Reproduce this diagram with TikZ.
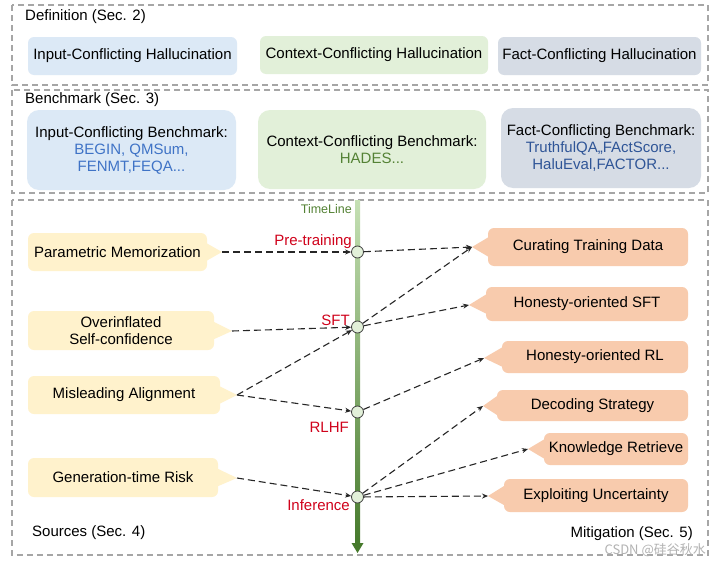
\documentclass[tikz,border=0pt]{standalone}
\usepackage{fontspec}
\setmainfont{Liberation Sans}
\newfontfamily\cjkfont{Noto Sans CJK SC}
\usetikzlibrary{arrows.meta}
\definecolor{bluebg}{HTML}{DCE9F6}
\definecolor{greenbg}{HTML}{E2F0D9}
\definecolor{graybg}{HTML}{D6DCE5}
\definecolor{srcbg}{HTML}{FFF2CC}
\definecolor{mitbg}{HTML}{F8CBAD}
\definecolor{bluetxt}{HTML}{3F73C6}
\definecolor{darkbluetxt}{HTML}{2F5597}
\definecolor{greentxt}{HTML}{548235}
\definecolor{redtxt}{HTML}{D0021B}
\definecolor{framegray}{HTML}{A6A6A6}
\definecolor{tltop}{HTML}{C5E0B4}
\definecolor{tlmid}{HTML}{7DB356}
\definecolor{tlbot}{HTML}{467A2C}
\definecolor{circfill}{HTML}{E2F0D9}
\begin{document}
\begin{tikzpicture}[x=1pt,y=-1pt,
  font=\fontsize{15}{17}\selectfont,
  frame/.style={draw=framegray, line width=1.2pt, dash pattern=on 6pt off 4pt},
  box/.style={rounded corners=6pt, inner sep=0pt, align=center},
  bbox/.style={rounded corners=12pt, inner sep=0pt, align=center},
  srcbox/.style={box, fill=srcbg},
  mitbox/.style={box, fill=mitbg},
  circ/.style={circle, minimum size=12pt, inner sep=0pt, fill=circfill, draw=black!75, line width=0.8pt},
  redlab/.style={text=redtxt, inner sep=0pt},
  seclab/.style={inner sep=0pt},
  dasharrow/.style={draw=black!85, line width=1.1pt, dash pattern=on 7pt off 4pt, -{Stealth[length=6pt,width=5pt]}}
]
\useasboundingbox (0,0) rectangle (720,562);
\fill[white] (0,0) rectangle (720,562);

% frames
\draw[frame] (12,5) rectangle (708,85);
\draw[frame] (12,90) rectangle (708,193);
\draw[frame] (12,200) rectangle (708,555);

\node[seclab, anchor=west] (defl) at (25,17) {Definition (Sec. 2)};
\node[seclab, anchor=west] (benl) at (25,100) {Benchmark (Sec. 3)};
\node[seclab, anchor=west] (srcl) at (32,533) {Sources (Sec. 4)};
\node[seclab, anchor=east] (mitl) at (693,534) {Mitigation (Sec. 5)};

% definition boxes
\node[box, fill=bluebg, minimum width=209pt, minimum height=38pt] (d1) at (132.5,56) {Input-Conflicting Hallucination};
\node[box, fill=greenbg, minimum width=228pt, minimum height=38pt] (d2) at (374,55) {Context-Conflicting Hallucination};
\node[box, fill=graybg, minimum width=203pt, minimum height=38pt] (d3) at (599.5,56) {Fact-Conflicting Hallucination};

% benchmark boxes
\node[bbox, fill=bluebg, minimum width=209pt, minimum height=80pt] (b1) at (131.5,150)
  {Input-Conflicting Benchmark:\\\textcolor{bluetxt}{BEGIN, QMSum,}\\\textcolor{bluetxt}{FENMT,FEQA...}};
\node[bbox, fill=greenbg, minimum width=228pt, minimum height=79pt] (b2) at (372,149.5)
  {Context-Conflicting Benchmark:\\\textcolor{greentxt}{HADES...}};
\node[bbox, fill=graybg, minimum width=200pt, minimum height=80pt] (b3) at (601,148)
  {Fact-Conflicting Benchmark:\\\textcolor{darkbluetxt}{TruthfulQA,,FActScore,}\\\textcolor{darkbluetxt}{HaluEval,FACTOR...}};

% timeline
\shade[top color=tltop, middle color=tlmid, bottom color=tlbot] (355,200) rectangle (360,544);
\fill[tlbot] (351.5,543) -- (363.5,543) -- (357.5,553) -- cycle;
\node[anchor=east, text=greentxt, inner sep=0pt, font=\fontsize{12.5}{14}\selectfont] (tl) at (352,209) {TimeLine};

% source boxes
\node[srcbox, minimum width=179pt, minimum height=38pt] (s1) at (117.5,252) {Parametric Memorization};
\node[srcbox, minimum width=186pt, minimum height=39pt] (s2) at (121,330.5) {Overinflated\\Self-confidence};
\node[srcbox, minimum width=192pt, minimum height=38pt] (s3) at (124,395) {Misleading Alignment};
\node[srcbox, minimum width=190pt, minimum height=39pt] (s4) at (123,477.5) {Generation-time Risk};
\coordinate (s1t) at (222,252);
\coordinate (s2t) at (232,331);
\coordinate (s3t) at (237,395);
\coordinate (s4t) at (237,478);
\foreach \s in {s1,s2,s3,s4}{
  \fill[srcbg] ([xshift=-1pt,yshift=9pt]\s.east) -- (\s t) -- ([xshift=-1pt,yshift=-9pt]\s.east) -- cycle;
}

% mitigation boxes
\node[mitbox, minimum width=200pt, minimum height=38pt] (m1) at (588,247) {Curating Training Data};
\node[mitbox, minimum width=202pt, minimum height=34pt] (m2) at (587,304) {Honesty-oriented SFT};
\node[mitbox, minimum width=186pt, minimum height=32pt] (m3) at (595,357) {Honesty-oriented RL};
\node[mitbox, minimum width=191pt, minimum height=31pt] (m4) at (592.5,405.5) {Decoding Strategy};
\node[mitbox, minimum width=144pt, minimum height=32pt] (m5) at (616,449) {Knowledge Retrieve};
\node[mitbox, minimum width=184pt, minimum height=33pt] (m6) at (596,495.5) {Exploiting Uncertainty};
\coordinate (m1t) at (472,247);
\coordinate (m2t) at (469,305);
\coordinate (m3t) at (484,358);
\coordinate (m4t) at (483,406);
\coordinate (m5t) at (528,449);
\coordinate (m6t) at (488,496);
\foreach \m in {m1,m2,m3,m4,m5,m6}{
  \fill[mitbg] ([xshift=1pt,yshift=10pt]\m.west) -- (\m t) -- ([xshift=1pt,yshift=-10pt]\m.west) -- cycle;
}

% stage circles
\node[circ] (c1) at (357.5,252) {};
\node[circ] (c2) at (357.5,327) {};
\node[circ] (c3) at (357.5,412) {};
\node[circ] (c4) at (357.5,497) {};

\node[redlab, anchor=east] (l1) at (352,242) {Pre-training};
\node[redlab, anchor=east] (l2) at (350,320) {SFT};
\node[redlab, anchor=east] (l3) at (349,427) {RLHF};
\node[redlab, anchor=east] (l4) at (350,505) {Inference};

% connectors
\draw[dasharrow] (s1t) -- (c1);
\draw[dasharrow] (c1) -- (m1t);
\draw[dasharrow] (s2t) -- (c2);
\draw[dasharrow] (c2) -- (m1t);
\draw[dasharrow] (c2) -- (m2t);
\draw[dasharrow] (s3t) -- (c2);
\draw[dasharrow] (s3t) -- (c3);
\draw[dasharrow] (c3) -- (m3t);
\draw[dasharrow] (s4t) -- (c4);
\draw[dasharrow] (c4) -- (m4t);
\draw[dasharrow] (c4) -- (m5t);
\draw[dasharrow] (c4) -- (m6t);

% watermark
\node[anchor=east, inner sep=0pt, text=black!30, font=\cjkfont\fontsize{13}{15}\selectfont] (wm) at (706,550) {CSDN @硅谷秋水};
\end{tikzpicture}
\end{document}
